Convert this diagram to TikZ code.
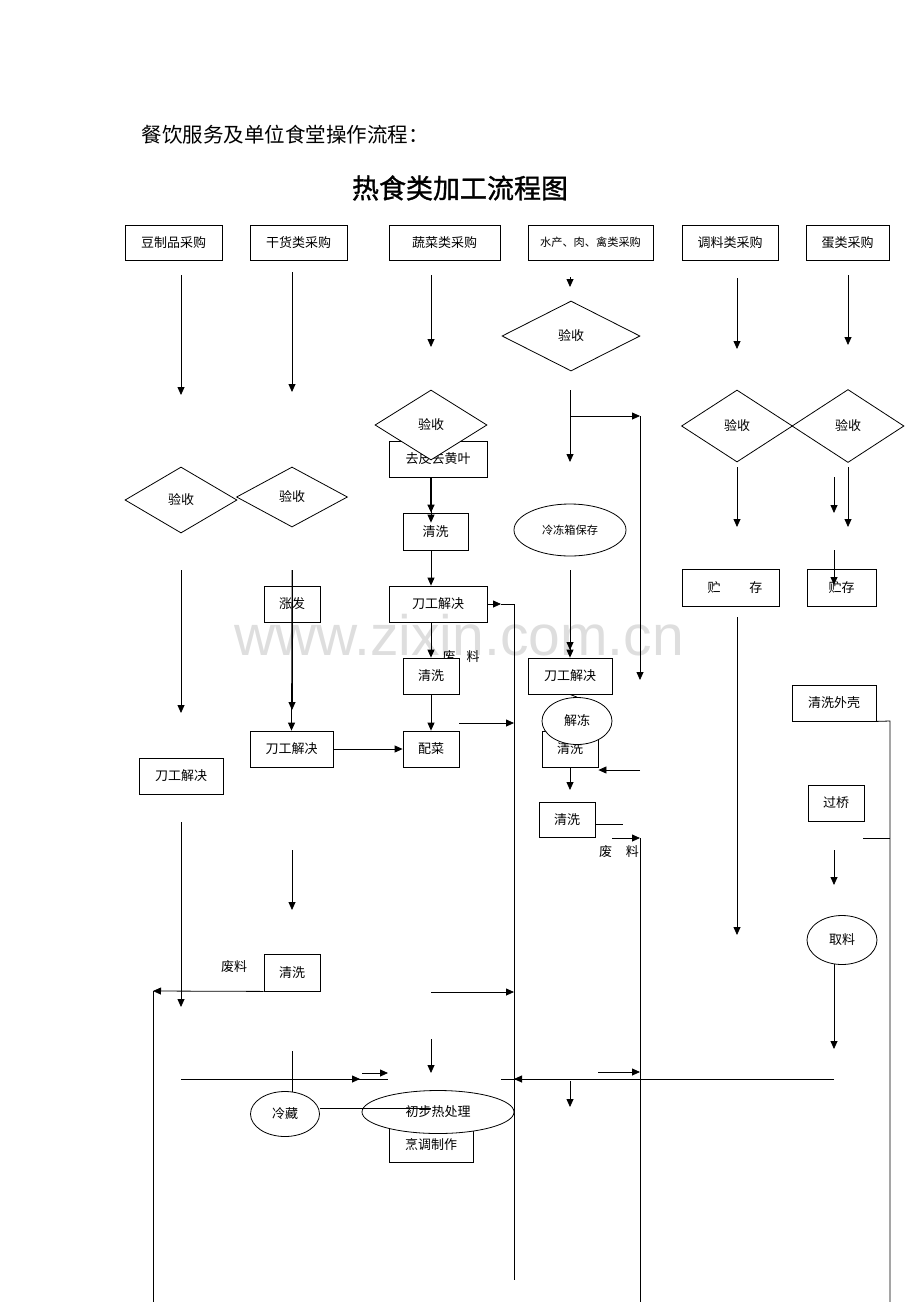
\documentclass[tikz,border=0pt]{standalone}
\usepackage{fontspec}
\setmainfont{Noto Sans CJK SC}
\newfontfamily\wmfont{Liberation Sans}
\newfontfamily\titlefont[FakeBold=1.2]{Noto Sans CJK SC}
\usetikzlibrary{shapes.geometric,arrows.meta}
\tikzset{
	box/.style={draw,rectangle,minimum height=36pt,inner sep=0pt},
	check/.style={draw,diamond,inner sep=0pt},
	oval/.style={draw,ellipse,inner sep=0pt},
	arr/.style={-{Triangle[length=8pt,width=7pt]}}
}

\begin{document}
\begin{tikzpicture}[x=1pt,y=1pt,line width=0.8pt,font=\fontsize{13}{15}\selectfont]
	\useasboundingbox (0,0) rectangle (920,-1302);
	%watermark
	\node[text=black!13,font=\wmfont\fontsize{57}{60}\selectfont] (wm) at (459,-635) {www.zixin.com.cn};
	%titles
	\node[anchor=west,font=\fontsize{20.5}{22}\selectfont] (head) at (138,-135) {餐饮服务及单位食堂操作流程：};
	\node[font=\titlefont\fontsize{27}{30}\selectfont] (title) at (460,-188) {热食类加工流程图};
	%purchase
	\node[box,minimum width=97pt,minimum height=35pt] (dz) at (173.5,-242.5) {豆制品采购};
	\node[box,minimum width=97pt,minimum height=35pt] (gh) at (298.5,-242.5) {干货类采购};
	\node[box,minimum width=111pt,minimum height=35pt] (sc) at (444.5,-242.5) {蔬菜类采购\hspace{14pt}};
	\node[box,minimum width=125pt,minimum height=35pt,font=\fontsize{11.2}{13}\selectfont] (sr) at (590.5,-242.5) {水产、肉、禽类采购};
	\node[box,minimum width=96pt,minimum height=35pt] (tl) at (730,-242.5) {调料类采购};
	\node[box,minimum width=83pt,minimum height=35pt] (dl) at (847.5,-242.5) {蛋类采购};
	%waste labels
	\node (wl1) at (461,-657) {废\hspace{11pt}料};
	\node (wl2) at (619,-852) {废\hspace{14pt}料};
	\node (wl3) at (234,-967) {废料};
	%boxes
	\node[box,minimum width=98pt] (qp) at (438,-459) {去皮去黄叶};
	\node[box,minimum width=65pt,minimum height=37pt] (qx1) at (435.5,-531.5) {清洗\hspace{12pt}};
	\node[box,minimum width=98pt] (dg3) at (438,-604) {刀工解决\hspace{18pt}};
	\node[box,minimum width=56pt] (zf) at (292,-604) {涨发};
	\node[box,minimum width=56pt,fill=white] (qx2) at (431,-676) {清洗};
	\node[box,minimum width=56pt] (pc) at (431,-749) {配菜};
	\node[box,minimum width=83pt] (dg2) at (291.5,-749) {刀工解决};
	\node[box,minimum width=84pt] (dg1) at (181,-776) {刀工解决};
	\node[box,minimum width=84pt] (dg4) at (570,-676) {刀工解决};
	\node[box,minimum width=56pt] (qx4) at (570,-749) {清洗};
	\node[box,minimum width=56pt,minimum height=35pt] (qx5) at (567,-819.5) {清洗};
	\node[box,minimum width=97pt,minimum height=37pt] (zc5) at (730.5,-587.5) {\hspace{9pt}贮\hspace{29pt}存};
	\node[box,minimum width=69pt,minimum height=37pt] (zc6) at (841.5,-587.5) {贮存\hspace{20pt}};
	\node[box,minimum width=84pt] (qk) at (834,-703) {清洗外壳};
	\node[box,minimum width=56pt] (gq) at (836,-803) {过桥};
	\node[box,minimum width=56pt,minimum height=37pt] (qx6) at (292,-972.5) {清洗};
	\node[box,minimum width=84pt,minimum height=35pt] (pt) at (431,-1144.5) {烹调制作};
	%checks
	\node[check,minimum width=112pt,minimum height=66pt] (ys1) at (181,-500) {验收};
	\node[check,minimum width=111pt,minimum height=60pt] (ys2) at (292,-497) {验收};
	\node[check,minimum width=112pt,minimum height=70pt,fill=white] (ys3) at (431,-425) {验收};
	\node[check,minimum width=138pt,minimum height=70pt] (ys4) at (571,-336) {验收};
	\node[check,minimum width=111pt,minimum height=72pt] (ys5) at (737,-426) {验收};
	\node[check,minimum width=112pt,minimum height=73pt] (ys6) at (848,-426) {验收};
	%ovals
	\node[oval,minimum width=112pt,minimum height=52pt,font=\fontsize{11.2}{13}\selectfont] (lb) at (570,-530) {冷冻箱保存};
	\node[oval,minimum width=70pt,minimum height=47pt,fill=white] (jd) at (577,-721) {解冻};
	\node[oval,minimum width=70pt,minimum height=49pt] (ql) at (842,-940) {取料};
	\node[oval,minimum width=69pt,minimum height=45pt] (lc) at (285,-1114) {冷藏};
	\node[oval,minimum width=152pt,minimum height=43pt,fill=white] (cb) at (438,-1112) {初步热处理};
	%free ends
	\path (181,-275) coordinate (a1) (181,-395) coordinate (a2)
	(181,-570) coordinate (a3) (181,-713) coordinate (a4)
	(181,-822) coordinate (a5) (181,-1007) coordinate (a6);
	\path (292,-272) coordinate (b1) (292,-392) coordinate (b2)
	(292,-570) coordinate (b3) (292,-710) coordinate (b4)
	(292,-850) coordinate (b5) (292,-910) coordinate (b6)
	(292,-1051) coordinate (b7) (292,-1092) coordinate (b8)
	(153,-991) coordinate (w1) (153,-1302) coordinate (w2);
	\path (181,-1079) coordinate (h1) (360,-1079) coordinate (h2) (388,-1079) coordinate (h3)
	(362,-1073) coordinate (h4) (388,-1073) coordinate (h5);
	\path (431,-275) coordinate (c1) (431,-347) coordinate (c2)
	(431,-1039) coordinate (c3) (431,-1073) coordinate (c4)
	(431,-1108) coordinate (c5)
	(431,-992) coordinate (c6) (514,-992) coordinate (c7)
	(459,-723) coordinate (c8) (514,-723) coordinate (c9)
	(501,-604) coordinate (v1) (514,-604) coordinate (v2) (514,-1280) coordinate (v3);
	\path (570,-277) coordinate (d1) (570,-287) coordinate (d2)
	(570,-390) coordinate (d3) (570,-462) coordinate (d4)
	(570,-416) coordinate (d5) (640,-416) coordinate (d6) (640,-680) coordinate (d7)
	(570,-570) coordinate (d8) (570,-650) coordinate (d9)
	(640,-770) coordinate (d10) (570,-790) coordinate (d11) (623,-824) coordinate (d12)
	(612,-838) coordinate (d13) (640,-838) coordinate (d14) (640,-1302) coordinate (d15)
	(834,-1079) coordinate (d16) (501,-1079) coordinate (d17)
	(545,-1079) coordinate (d18) (514,-1079) coordinate (d19)
	(570,-1081) coordinate (d20) (570,-1107) coordinate (d21)
	(598,-1072) coordinate (d22) (640,-1072) coordinate (d23);
	\path (737,-278) coordinate (e1) (737,-349) coordinate (e2)
	(737,-467) coordinate (e3) (737,-527) coordinate (e4)
	(737,-617) coordinate (e5) (737,-935) coordinate (e6);
	\path (848,-275) coordinate (f1) (848,-345) coordinate (f2)
	(848,-467) coordinate (f3) (848,-527) coordinate (f4)
	(834,-477) coordinate (f5) (834,-513) coordinate (f6)
	(834,-550) coordinate (f7) (834,-585) coordinate (f8)
	(890,-721) coordinate (f9) (890,-1302) coordinate (f10)
	(863,-838) coordinate (f11) (890,-838) coordinate (f12)
	(834,-850) coordinate (f13) (834,-885) coordinate (f14)
	(834,-964) coordinate (f15) (834,-1049) coordinate (f16);
	%tofu column
	\draw[arr] (a1) -- (a2);
	\draw[arr] (a3) -- (a4);
	\draw[arr] (a5) -- (a6);
	%dry goods column
	\draw[arr] (b1) -- (b2);
	\draw[arr] (b3) -- (b4);
	\draw[arr] (b3) -- (dg2.north);
	\draw[arr] (dg2.east) -- (pc.west);
	\draw[arr] (b5) -- (b6);
	\draw[arr] (qx6.south west) -- (w1);
	\draw (w1) -- (w2);
	\draw (b7) -- (b8);
	\draw (lc.east |- c5) -- (c5);
	\draw (h1) -- (h3);
	\draw[arr] (h1) -- (h2);
	\draw[arr] (h4) -- (h5);
	%vegetable column
	\draw[arr] (c1) -- (c2);
	\draw[arr,line width=1.3pt] (qp.south -| c1) -- (qx1.north -| c1);
	\draw[arr] ([yshift=-20pt]qp.south -| c1) -- ([yshift=-10pt]qx1.north -| c1);
	\draw[arr] (qx1.south -| c1) -- (dg3.north -| c1);
	\draw[arr] (dg3.south -| c1) -- (qx2.north);
	\draw[arr] (qx2.south) -- (pc.north);
	\draw[arr] (dg3.east) -- (v1);
	\draw (v1) -- (v2) -- (v3);
	\draw[arr] (c8) -- (c9);
	\draw[arr] (c6) -- (c7);
	\draw[arr] (c3) -- (c4);
	%meat column
	\draw[arr] (d1) -- (d2);
	\draw[arr] (d3) -- (d4);
	\draw[arr] (d5) -- (d6);
	\draw[arr] (d6) -- (d7);
	\draw[arr] (d8) -- (d9);
	\draw[arr] (d8) -- (dg4.north);
	\draw (dg4.south) -- (jd.north);
	\draw[arr] (d10) -- (d10 -| qx4.east);
	\draw[arr] (qx4.south) -- (d11);
	\draw (qx5.east |- d12) -- (d12);
	\draw[arr] (d13) -- (d14);
	\draw (d14) -- (d15);
	\draw (d16) -- (d17);
	\draw[arr] (d18) -- (d19);
	\draw[arr] (d20) -- (d21);
	\draw[arr] (d22) -- (d23);
	%seasoning column
	\draw[arr] (e1) -- (e2);
	\draw[arr] (e3) -- (e4);
	\draw[arr] (e5) -- (e6);
	%egg column
	\draw[arr] (f1) -- (f2);
	\draw[arr] (f3) -- (f4);
	\draw[arr] (f5) -- (f6);
	\draw[arr] (f7) -- (f8);
	\draw (qk.south east) -- (f9) -- (f10);
	\draw (f11) -- (f12);
	\draw[arr] (f13) -- (f14);
	\draw[arr] (f15) -- (f16);
\end{tikzpicture}
\end{document}
